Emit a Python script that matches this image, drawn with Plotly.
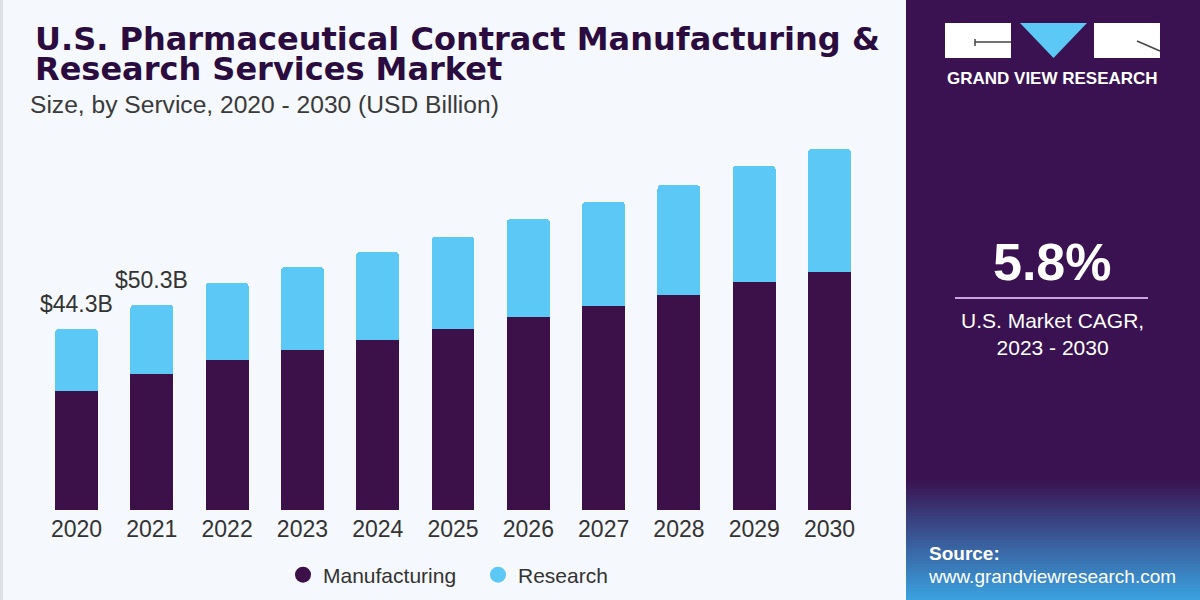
import plotly.graph_objects as go

# ---------------- data ----------------
years = ["2020", "2021", "2022", "2023", "2024", "2025", "2026", "2027", "2028", "2029", "2030"]
manufacturing = [29.2, 33.3, 36.8, 39.2, 41.7, 44.3, 47.3, 50.0, 52.7, 55.9, 58.3]
research = [15.1, 17.0, 18.9, 20.3, 21.5, 22.6, 24.0, 25.5, 26.9, 28.4, 30.1]
labeled_years = ["2020", "2021"]

title_line1 = "U.S. Pharmaceutical Contract Manufacturing &"
title_line2 = "Research Services Market"
subtitle = "Size, by Service, 2020 - 2030 (USD Billion)"
cagr_value = "5.8%"
cagr_text = "U.S. Market CAGR,<br>2023 - 2030"

# ---------------- styles ----------------
W, H = 1200, 600
BG = "#f5f8fc"
MFG = "#3c1049"
RES = "#5bc8f5"
PANEL = "#3a1251"
TITLE_C = "#2b0c3e"
TXT = "#333333"
FONT = "Liberation Sans, Arial, sans-serif"


def px_x(x):
    return x / W


def px_y(y):
    return 1 - y / H


fig = go.Figure()
fig.add_trace(go.Bar(x=years, y=manufacturing, name="Manufacturing",
                     marker=dict(color=MFG, line=dict(width=0)), showlegend=False))
fig.add_trace(go.Bar(x=years, y=research, name="Research",
                     marker=dict(color=RES, line=dict(width=0)), showlegend=False))
# legend entries with circular markers
fig.add_trace(go.Scatter(x=[None], y=[None], mode="markers", name="Manufacturing",
                         marker=dict(color=MFG, size=17, symbol="circle")))
fig.add_trace(go.Scatter(x=[None], y=[None], mode="markers", name="Research",
                         marker=dict(color=RES, size=17, symbol="circle")))

annotations = []
for i, (yr, m, r) in enumerate(zip(years, manufacturing, research)):
    if yr in labeled_years:
        tot = m + r
        annotations.append(dict(x=i, y=tot, xref="x", yref="y", text=f"${tot:.1f}B",
                                showarrow=False, yanchor="bottom", yshift=10,
                                font=dict(family=FONT, size=23, color=TXT)))

# titles
annotations += [
    dict(x=px_x(33), y=px_y(38.5), xref="paper", yref="paper", text=f"<b>{title_line1}</b>",
         showarrow=False, xanchor="left", yanchor="middle",
         font=dict(family="DejaVu Sans", size=32, color=TITLE_C)),
    dict(x=px_x(33), y=px_y(69), xref="paper", yref="paper", text=f"<b>{title_line2}</b>",
         showarrow=False, xanchor="left", yanchor="middle",
         font=dict(family="DejaVu Sans", size=32, color=TITLE_C)),
    dict(x=px_x(28), y=px_y(104), xref="paper", yref="paper", text=subtitle,
         showarrow=False, xanchor="left", yanchor="middle",
         font=dict(family=FONT, size=24.6, color="#3a3a3a")),
    # right panel
    dict(x=px_x(1052), y=px_y(79), xref="paper", yref="paper", text="<b>GRAND VIEW RESEARCH</b>",
         showarrow=False, xanchor="center", yanchor="middle",
         font=dict(family=FONT, size=17, color="white")),
    dict(x=px_x(1052), y=px_y(262), xref="paper", yref="paper", text=f"<b>{cagr_value}</b>",
         showarrow=False, xanchor="center", yanchor="middle",
         font=dict(family=FONT, size=52, color="white")),
    dict(x=px_x(1052), y=px_y(334), xref="paper", yref="paper", text=cagr_text,
         showarrow=False, xanchor="center", yanchor="middle", align="center",
         font=dict(family=FONT, size=21, color="white")),
    dict(x=px_x(927), y=px_y(553), xref="paper", yref="paper", text="<b>Source:</b>",
         showarrow=False, xanchor="left", yanchor="middle",
         font=dict(family=FONT, size=19, color="white")),
    dict(x=px_x(926), y=px_y(576), xref="paper", yref="paper", text="www.grandviewresearch.com",
         showarrow=False, xanchor="left", yanchor="middle",
         font=dict(family=FONT, size=19, color="white")),
]

shapes = []
# right panel
shapes.append(dict(type="rect", xref="paper", yref="paper", x0=px_x(906), x1=1, y0=0, y1=1,
                   fillcolor=PANEL, line=dict(width=0), layer="below"))
# bottom gradient of the panel
g0, g1 = 480, 600
n = 40
c0 = (58, 18, 81)
c1 = (58, 162, 224)
for i in range(n):
    t = (i + 0.5) / n
    col = tuple(int(round(c0[k] + (c1[k] - c0[k]) * t)) for k in range(3))
    ya = g0 + (g1 - g0) * i / n
    yb = g0 + (g1 - g0) * (i + 1) / n + 0.5
    shapes.append(dict(type="rect", xref="paper", yref="paper", x0=px_x(906), x1=1,
                       y0=px_y(yb), y1=px_y(ya), fillcolor=f"rgb{col}", line=dict(width=0),
                       layer="below"))
# left border line
shapes.append(dict(type="rect", xref="paper", yref="paper", x0=0, x1=px_x(3), y0=0, y1=1,
                   fillcolor="#dde1e6", line=dict(width=0), layer="below"))
# logo
shapes.append(dict(type="rect", xref="paper", yref="paper", x0=px_x(945), x1=px_x(1011),
                   y0=px_y(58), y1=px_y(23), fillcolor="white", line=dict(width=0)))
shapes.append(dict(type="rect", xref="paper", yref="paper", x0=px_x(1094), x1=px_x(1160),
                   y0=px_y(58), y1=px_y(23), fillcolor="white", line=dict(width=0)))
shapes.append(dict(type="path", xref="paper", yref="paper",
                   path=f"M {px_x(1020)} {px_y(23)} L {px_x(1087)} {px_y(23)} L {px_x(1053.5)} {px_y(58)} Z",
                   fillcolor=RES, line=dict(width=0)))
shapes.append(dict(type="line", xref="paper", yref="paper", x0=px_x(975), x1=px_x(1011),
                   y0=px_y(42), y1=px_y(42), line=dict(color="#444", width=1.5)))
shapes.append(dict(type="line", xref="paper", yref="paper", x0=px_x(975), x1=px_x(975),
                   y0=px_y(39), y1=px_y(46), line=dict(color="#444", width=1.5)))
shapes.append(dict(type="line", xref="paper", yref="paper", x0=px_x(1137), x1=px_x(1160),
                   y0=px_y(41), y1=px_y(51), line=dict(color="#444", width=1.5)))
# separator line under CAGR
shapes.append(dict(type="line", xref="paper", yref="paper", x0=px_x(955), x1=px_x(1148),
                   y0=px_y(298), y1=px_y(298), line=dict(color="#c9a3e2", width=2)))

plot_top, plot_bottom = 130, 510
ymax = (plot_bottom - plot_top) * 0.245

fig.update_layout(
    width=W, height=H,
    margin=dict(l=0, r=0, t=0, b=0, pad=0, autoexpand=False),
    paper_bgcolor=BG, plot_bgcolor=BG,
    barmode="stack", bargap=0.43, barcornerradius=4,
    font=dict(family=FONT, color=TXT),
    xaxis=dict(type="category", range=[-0.5, len(years) - 0.5],
               domain=[px_x(38.85), px_x(867.2)], showgrid=False,
               zeroline=False, showline=False, ticks="", automargin=False,
               ticklabelstandoff=3,
               tickfont=dict(family=FONT, size=23, color=TXT), fixedrange=True),
    yaxis=dict(domain=[px_y(plot_bottom), px_y(plot_top)], range=[0, ymax], visible=False,
               showgrid=False, zeroline=False, automargin=False, fixedrange=True),
    legend=dict(orientation="h", x=px_x(283), xanchor="left", y=px_y(575), yanchor="middle",
                traceorder="normal", entrywidth=150, entrywidthmode="pixels",
                font=dict(family=FONT, size=21, color=TXT), bgcolor="rgba(0,0,0,0)"),
    annotations=annotations,
    shapes=shapes,
    showlegend=True,
)

fig.write_html("out.html", config={"displayModeBar": False},
               post_script="document.body.style.margin='0';")
